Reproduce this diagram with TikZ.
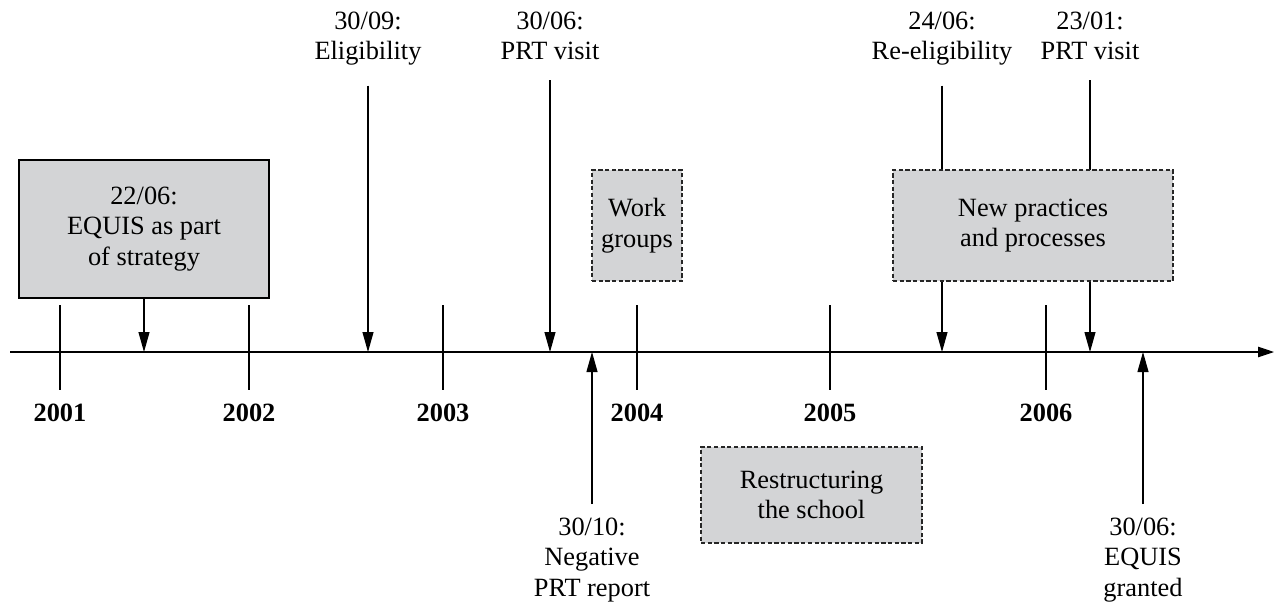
\documentclass[tikz,border=0pt]{standalone}
\usepackage{fontspec}
\setmainfont{Liberation Serif}
\usetikzlibrary{arrows.meta}
\definecolor{boxgray}{RGB}{211,212,214}
\tikzset{
  txt/.style={align=center, inner sep=2pt, font=\fontsize{15}{17.3}\selectfont},
  year/.style={inner sep=2pt, font=\fontsize{15}{17.3}\selectfont\bfseries},
  phase/.style={txt, draw=black!85, fill=boxgray, dash pattern=on 2.4pt off 1.4pt},
  evt/.style={-{Triangle[length=4mm, width=2.2mm]}},
}

\begin{document}
\begin{tikzpicture}[x=0.2mm, y=-0.2mm, line width=0.6pt]
    \begin{scope}
      \useasboundingbox (0, 0) rectangle (1274, 611) ;
      \coordinate (axs) at (10, 352) ;
      \coordinate (axe) at (1274, 352) ;
      \draw[-{Triangle[length=3.2mm, width=2.1mm]}] (axs) -- (axe) ;
      \foreach \yr/\x in {2001/60, 2002/249, 2003/443, 2004/637, 2005/830, 2006/1046} {
        \draw (\x, 305) -- (\x, 390) ;
        \node[year] (y\yr) at (\x, 413) {\yr} ;
      }
      \node[txt, draw, fill=boxgray, minimum width=50mm, minimum height=27.6mm] (equis) at (144, 229) {22/06:\\EQUIS as part\\of strategy} ;
      \draw[evt] (equis.south) -- (equis.south |- axs) ;
      \node[txt, anchor=north] (elig) at (368, 8) {30/09:\\Eligibility} ;
      \draw[evt, shorten <=3.2mm] (elig.south) -- (elig.south |- axs) ;
      \node[txt, anchor=north] (visit) at (550, 8) {30/06:\\PRT visit} ;
      \draw[evt, shorten <=3.2mm] (visit.south) -- (visit.south |- axs) ;
      \node[txt, anchor=north] (neg) at (592, 514) {30/10:\\Negative\\PRT report} ;
      \draw[evt, shorten <=2mm] (neg.north) -- (neg.north |- axs) ;
      \node[phase, minimum width=18mm, minimum height=22.2mm] (work) at (637, 225.5) {Work\\groups} ;
      \node[phase, minimum width=44.2mm, minimum height=19.2mm] (restr) at (811.5, 495) {Restructuring\\the school} ;
      \node[txt, anchor=north] (reelig) at (942, 8) {24/06:\\Re-eligibility} ;
      \draw[evt, shorten <=3.2mm] (reelig.south) -- (reelig.south |- axs) ;
      \node[txt, anchor=north] (revisit) at (1090, 8) {23/01:\\PRT visit} ;
      \draw[evt, shorten <=3.2mm] (revisit.south) -- (revisit.south |- axs) ;
      \node[phase, minimum width=56mm, minimum height=22.2mm] (newprac) at (1033, 225.5) {New practices\\and processes} ;
      \node[txt, anchor=north] (granted) at (1143, 514) {30/06:\\EQUIS\\granted} ;
      \draw[evt, shorten <=2mm] (granted.north) -- (granted.north |- axs) ;
    \end{scope}
\end{tikzpicture}
\end{document}
